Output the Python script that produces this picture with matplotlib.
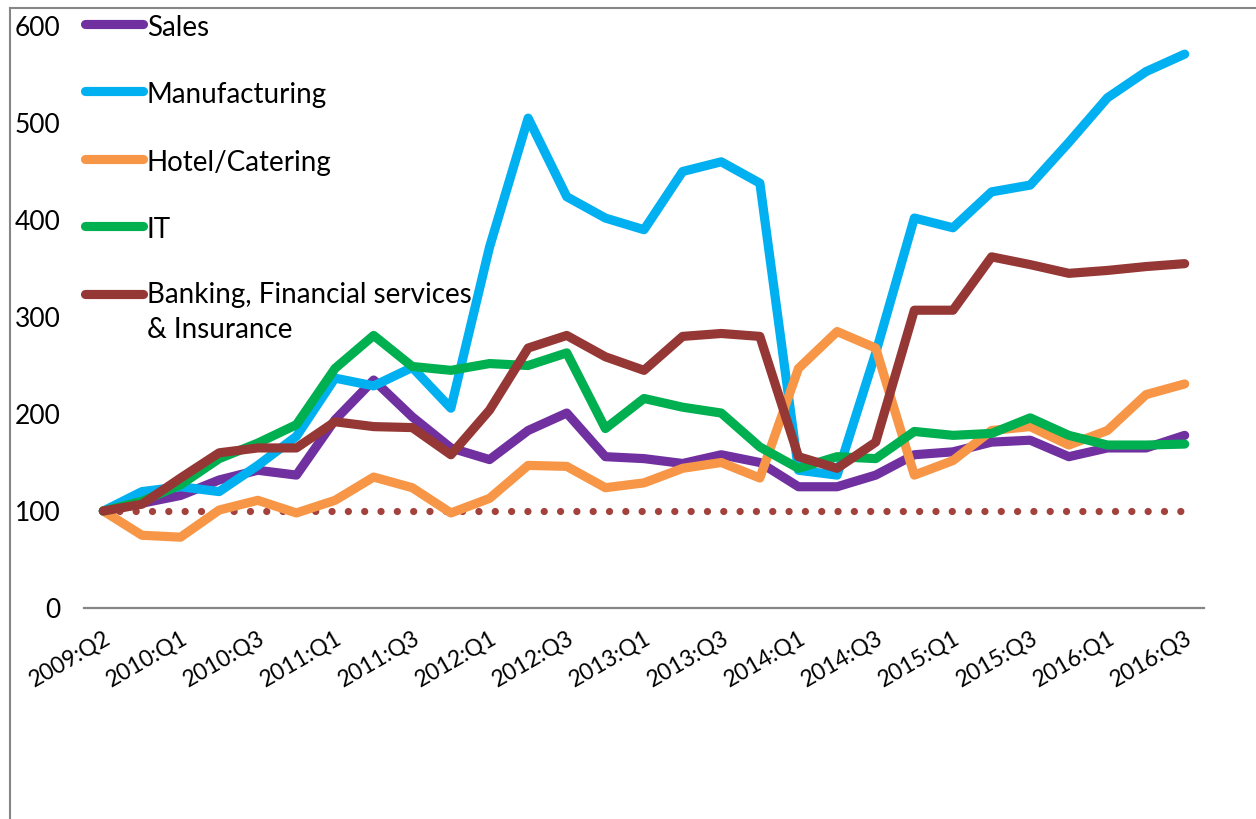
import matplotlib
matplotlib.use("Agg")
import matplotlib.pyplot as plt
from matplotlib.lines import Line2D

plt.rcParams["font.family"] = ["Lato", "DejaVu Sans"]

# ---- data (index = 100 at 2009:Q2) ----
quarters = ["2009:Q2", "2009:Q4",
            "2010:Q1", "2010:Q2", "2010:Q3", "2010:Q4",
            "2011:Q1", "2011:Q2", "2011:Q3", "2011:Q4",
            "2012:Q1", "2012:Q2", "2012:Q3", "2012:Q4",
            "2013:Q1", "2013:Q2", "2013:Q3", "2013:Q4",
            "2014:Q1", "2014:Q2", "2014:Q3", "2014:Q4",
            "2015:Q1", "2015:Q2", "2015:Q3", "2015:Q4",
            "2016:Q1", "2016:Q2", "2016:Q3"]
sales = [100, 108, 116, 132, 142, 137, 194, 235, 197, 165, 153, 183, 201, 156, 154,
         149, 158, 150, 125, 125, 137, 158, 161, 171, 173, 156, 165, 165, 178]
manufacturing = [100, 120, 125, 120, 147, 177, 237, 229, 248, 206, 372, 505, 424, 402, 390,
                 450, 460, 438, 142, 137, 263, 402, 392, 429, 436, 480, 526, 553, 571]
hotel = [100, 75, 73, 101, 111, 98, 111, 135, 124, 98, 113, 147, 146, 124, 129,
         144, 150, 134, 247, 285, 268, 137, 152, 183, 187, 168, 183, 220, 231]
it = [100, 110, 127, 154, 170, 189, 247, 281, 249, 245, 252, 250, 263, 185, 216,
      207, 201, 166, 144, 156, 154, 182, 178, 180, 196, 178, 168, 168, 169]
banking = [100, 107, 134, 160, 165, 165, 192, 187, 186, 158, 204, 268, 281, 259, 245,
           280, 283, 280, 156, 144, 171, 307, 307, 362, 354, 345, 348, 352, 355]
BASE = 100
yticks = [0, 100, 200, 300, 400, 500, 600]

series = [
    ("Sales", sales, "#7030A0"),
    ("Manufacturing", manufacturing, "#00B0F0"),
    ("Hotel/Catering", hotel, "#F79646"),
    ("IT", it, "#00B050"),
    ("Banking, Financial services\n& Insurance", banking, "#953735"),
]

W, H = 1256, 819
fig = plt.figure(figsize=(W / 100, H / 100), dpi=100)
ax = fig.add_axes([84 / W, 1 - 608 / H, 1120 / W, 582 / H])

x = list(range(len(quarters)))

base = ax.hlines(BASE, x[0], x[-1], colors="#A3423D", linewidth=5.2,
                 linestyles=(0, (0.01, 2.25)))
base.set_capstyle("round")

for name, vals, col in series:
    ax.plot(x, vals, color=col, lw=6.6, label=name,
            solid_capstyle="round", solid_joinstyle="round")

ax.set_xlim(-0.5, len(quarters) - 0.5)
ax.set_ylim(0, 600)
ax.set_yticks(yticks)
ax.tick_params(axis="y", length=0, pad=17, labelsize=19)
ax.set_xticks(x[::2])
ax.set_xticklabels(quarters[::2], rotation=30, ha="right", rotation_mode="anchor")
ax.tick_params(axis="x", length=0, pad=14, labelsize=16.5)

for s in ["left", "right", "top"]:
    ax.spines[s].set_visible(False)
ax.spines["bottom"].set_color("#868686")
ax.spines["bottom"].set_linewidth(1.6)

# outer chart frame (left and top edges only visible)
fig.add_artist(Line2D([10 / W, 10 / W], [0, 1 - 8 / H], transform=fig.transFigure,
                      color="#868686", lw=1.5))
fig.add_artist(Line2D([10 / W, 1], [1 - 8 / H, 1 - 8 / H], transform=fig.transFigure,
                      color="#868686", lw=1.5))

leg = ax.legend(loc="upper left", bbox_to_anchor=(85 / W, 1 - 12 / H),
                bbox_transform=fig.transFigure, frameon=False, fontsize=20,
                handlelength=2.1, handletextpad=0.12, labelspacing=1.4,
                handleheight=1.2, borderpad=0, borderaxespad=0)
leg.get_texts()[-1].set_linespacing(1.45)
for col in leg._legend_handle_box.get_children():
    entries = col.get_children()
    entries[-1].align = "top"

fig.savefig("out.png", dpi=100, facecolor="white")
